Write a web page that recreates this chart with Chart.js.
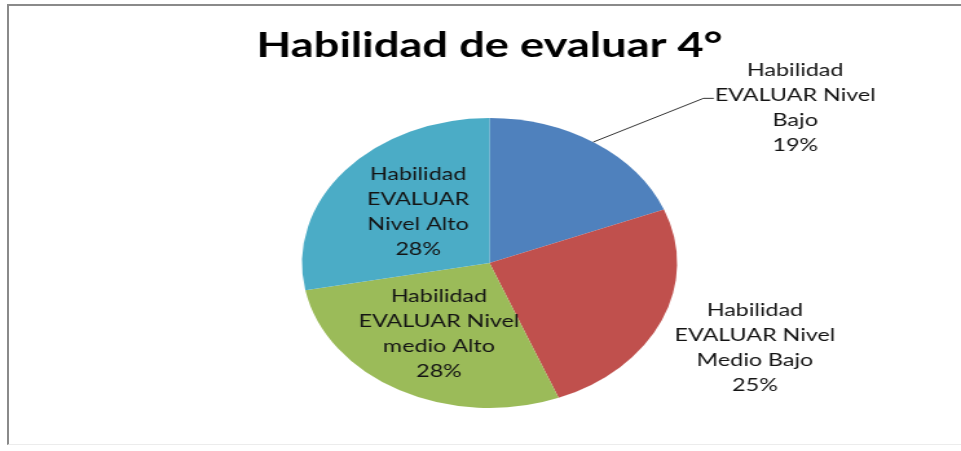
<!DOCTYPE html>
<html>
<head>
<meta charset="utf-8">
<script src="https://cdn.jsdelivr.net/npm/chart.js@4/dist/chart.umd.min.js"></script>
<style>
  html, body { margin: 0; padding: 0; background: #fff; }
  #wrap { position: relative; width: 961px; height: 451px; overflow: hidden; }
  #frame {
    position: absolute; left: 7px; top: 4px; width: 1000px; height: 438px;
    border-left: 2px solid #8a8a8a; border-top: 2px solid #8a8a8a;
    border-bottom: 1px solid #ececec;
  }
  /* the source picture is stretched sideways, so the whole chart is too */
  #stretch { position: absolute; left: 0; top: 0; transform: scaleX(1.2934); transform-origin: 0 0; }
</style>
</head>
<body>
<div id="wrap">
  <div id="frame"></div>
  <div id="stretch"><canvas id="pie" width="743" height="451"></canvas></div>
</div>
<script>
// data
const categories = [
  ['Habilidad', 'EVALUAR Nivel', 'Bajo'],
  ['Habilidad', 'EVALUAR Nivel', 'Medio Bajo'],
  ['Habilidad', 'EVALUAR Nivel', 'medio Alto'],
  ['Habilidad', 'EVALUAR', 'Nivel Alto']
];
const percents = [19, 25, 28, 28];
const colors = ['#4f81bd', '#c0504d', '#9bbb59', '#4bacc6'];

// label placement, in units of the pie radius
// inside: distance along the slice's middle angle (plus a small nudge);
// outside: offset from the centre
const labelSpots = [
  { dx: 1.63, dy: -1.07, leader: 0.49 },
  { dx: 1.415, dy: 0.586 },
  { inside: 0.56 },
  { inside: 0.53, nudgeX: 4, nudgeY: -2 }
];

const labelPlugin = {
  id: 'sliceLabels',
  afterDatasetsDraw(chart) {
    const ctx = chart.ctx;
    const arcs = chart.getDatasetMeta(0).data;
    ctx.save();
    ctx.font = '18px Lato, sans-serif';
    ctx.fillStyle = '#141414';
    ctx.textAlign = 'center';
    ctx.textBaseline = 'middle';
    arcs.forEach((arc, i) => {
      const { x, y, outerRadius, startAngle, endAngle } = arc.getProps(['x', 'y', 'outerRadius', 'startAngle', 'endAngle'], true);
      const spot = labelSpots[i];
      let cx, cy;
      if (spot.inside) {
        const mid = (startAngle + endAngle) / 2;
        cx = x + Math.cos(mid) * outerRadius * spot.inside + (spot.nudgeX || 0);
        cy = y + Math.sin(mid) * outerRadius * spot.inside + (spot.nudgeY || 0);
      } else {
        cx = x + spot.dx * outerRadius;
        cy = y + spot.dy * outerRadius;
      }
      const lines = categories[i].concat([percents[i] + '%']);
      const lh = 25;
      const top = cy - (lines.length - 1) * lh / 2;
      lines.forEach((t, k) => ctx.fillText(t, cx, top + k * lh));

      if (spot.leader) {
        const ang = startAngle + (endAngle - startAngle) * spot.leader;
        const px = x + Math.cos(ang) * outerRadius;
        const py = y + Math.sin(ang) * outerRadius;
        const ex = cx - 71, ey = top + lh + 3;
        ctx.strokeStyle = '#333';
        ctx.lineWidth = 1;
        ctx.beginPath();
        ctx.moveTo(px, py);
        ctx.lineTo(ex, ey);
        ctx.lineTo(ex + 8, ey);
        ctx.stroke();
      }
    });
    ctx.restore();
  }
};

new Chart(document.getElementById('pie'), {
  type: 'pie',
  data: {
    labels: categories.map(c => c.join(' ')),
    datasets: [{
      data: percents,
      backgroundColor: colors,
      borderWidth: 0
    }]
  },
  options: {
    responsive: false,
    animation: false,
    layout: { padding: { top: 0, bottom: 43, left: 24, right: 10 } },
    plugins: {
      legend: { display: false },
      tooltip: { enabled: false },
      title: {
        display: true,
        text: 'Habilidad de evaluar 4°',
        color: '#000',
        font: { family: 'Lato, sans-serif', size: 35, weight: 'bold', lineHeight: 1.2 },
        padding: { top: 25, bottom: 51 }
      }
    }
  },
  plugins: [labelPlugin]
});
</script>
</body>
</html>
